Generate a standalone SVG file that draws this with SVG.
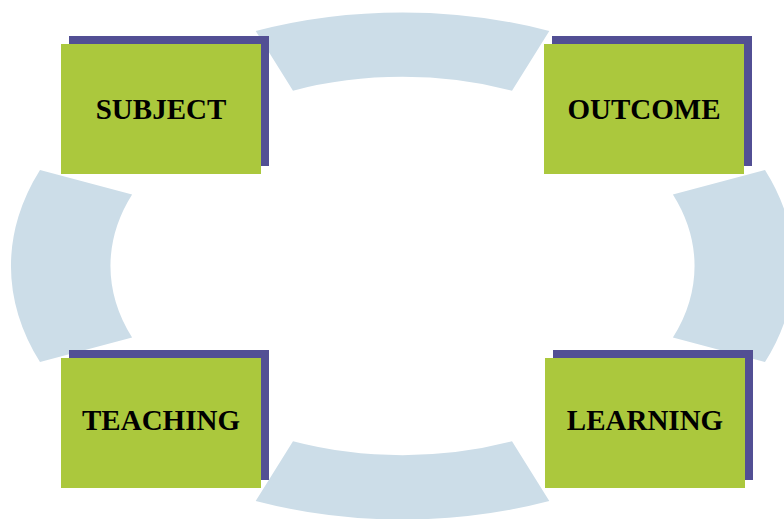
<svg xmlns="http://www.w3.org/2000/svg" width="784" height="519" viewBox="0 0 784 519">
  <style>
    .arc { fill: #ccdde8; }
    .shadow { fill: #524f94; }
    .box { fill: #abc83d; }
    .label { font-family: "Liberation Serif", "Times New Roman", serif; font-weight: bold; font-size: 29px; fill: #000; text-anchor: middle; }
  </style>
  <rect width="784" height="519" fill="#ffffff"/>
  <!-- ring segments of the cycle (outer ellipse rx 391.5 ry 254, inner rx 292 ry 189.5, centre 402.5,266) -->
  <g id="connectors">
    <path class="arc" d="M255.7,31 A391.5,254 0 0 1 549.3,31 L512,90.7 A292,189.5 0 0 0 293,90.7 Z"/>
    <path class="arc" d="M765,170 A391.5,254 0 0 1 765,362 L672.9,337.6 A292,189.5 0 0 0 672.9,194.4 Z"/>
    <path class="arc" d="M549.3,501 A391.5,254 0 0 1 255.7,501 L293,441.3 A292,189.5 0 0 0 512,441.3 Z"/>
    <path class="arc" d="M40,362 A391.5,254 0 0 1 40,170 L132.1,194.4 A292,189.5 0 0 0 132.1,337.6 Z"/>
  </g>
  <g id="subject">
    <rect class="shadow" x="69" y="36" width="200" height="130"/>
    <rect class="box" x="61" y="44" width="200" height="130"/>
    <text class="label" x="161" y="119">SUBJECT</text>
  </g>
  <g id="outcome">
    <rect class="shadow" x="552" y="36" width="200" height="130"/>
    <rect class="box" x="544" y="44" width="200" height="130"/>
    <text class="label" x="644" y="119">OUTCOME</text>
  </g>
  <g id="teaching">
    <rect class="shadow" x="69" y="350" width="200" height="130"/>
    <rect class="box" x="61" y="358" width="200" height="130"/>
    <text class="label" x="161" y="430">TEACHING</text>
  </g>
  <g id="learning">
    <rect class="shadow" x="553" y="350" width="200" height="130"/>
    <rect class="box" x="545" y="358" width="200" height="130"/>
    <text class="label" x="645" y="430">LEARNING</text>
  </g>
</svg>
